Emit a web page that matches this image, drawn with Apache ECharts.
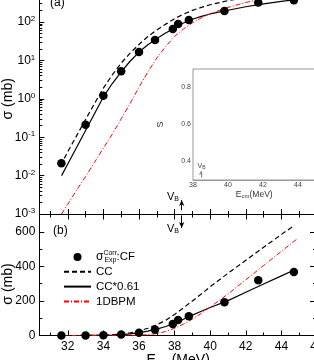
<!DOCTYPE html>
<html><head><meta charset="utf-8">
<script src="https://cdn.jsdelivr.net/npm/echarts@6/dist/echarts.min.js"></script>
<style>html,body{margin:0;padding:0;background:#fff}#c{width:314px;height:360px}</style>
</head><body><div id="c"></div>
<script>
// ---- data ----
const expE      = [31.64, 33.0, 34.0, 35.0, 36.0, 36.9, 37.9, 38.2, 38.8, 40.8, 42.7, 44.7];
const expSigma  = [0.021, 0.21, 1.2, 5.2, 16.5, 34, 66, 89, 112, 193, 320, 368];

const ccE     = [31.8, 32, 32.5, 33, 33.5, 34, 34.5, 35, 35.5, 36, 36.5, 37, 37.5, 38, 38.5, 39, 39.5, 40, 41, 42, 43, 44, 44.75];
const ccSigma = [0.028, 0.042, 0.11, 0.29, 0.75, 1.9, 4.2, 8.5, 15.5, 26, 42, 62, 88, 122, 160, 200, 240, 282, 360, 435, 510, 585, 638];

const cc61E     = [31.65, 32, 32.5, 33, 33.5, 34, 34.5, 35, 35.5, 36, 36.5, 37, 37.5, 38, 38.5, 39, 39.5, 40, 41, 42, 43, 44, 44.75];
const cc61Sigma = [0.010, 0.020, 0.055, 0.15, 0.41, 1.12, 2.5, 5.0, 9.5, 16.5, 25.5, 37, 52, 70, 94, 118, 140, 162, 202, 250, 298, 345, 380];

const bpmE     = [31.65, 32, 32.5, 33, 33.5, 34, 34.5, 35, 35.5, 36, 36.5, 37, 37.5, 38, 38.5, 39, 39.5, 40, 41, 42, 43, 44, 44.9];
const bpmSigma = [0.001, 0.0018, 0.0042, 0.0095, 0.022, 0.052, 0.12, 0.3, 0.75, 2.0, 5.0, 11.5, 23, 42, 66, 95, 128, 165, 240, 322, 405, 487, 560];

// inset: S factor
const sE   = [38.25, 38.8, 41.85, 42.65, 44.65];
const sVal = [0.63, 0.598, 0.567, 0.655, 0.573];
const sErr = [0.015, 0.006, 0.035, 0.006, 0.006];
const sFitE = [38.2, 45];
const sFitV = [0.61, 0.61];

const vbE = 38.4;          // barrier position
const vbInsetE = 38.45;

// tick values
const xMajor = [32, 34, 36, 38, 40, 42, 44, 46];
const xMinor = [31, 33, 35, 37, 39, 41, 43, 45];
const yLinMajor = [0, 200, 400, 600];
const yLinMinor = [100, 300, 500];
const logDecades = [-3, -2, -1, 0, 1, 2];
const logMult = [2, 3, 4, 5, 6, 7, 8, 9];
const insetXMajor = [38, 40, 42, 44];
const insetXMinor = [39, 41, 43, 45];
const insetYMajor = [0.4, 0.6, 0.8];

const logMinor = [];
logDecades.forEach(d => logMult.forEach(m => logMinor.push(d + Math.log10(m))));

const zip = (a, b) => a.map((v, i) => [v, b[i]]);
const F = 'Liberation Sans, Arial, sans-serif';

const chart = echarts.init(document.getElementById('c'), null, {renderer: 'canvas'});

const blackLine = {onZero: false, lineStyle: {color: '#000', width: 1}};
function tickAxis(base) {
  return Object.assign({
    splitLine: {show: false},
    axisLine: {show: false, onZero: false},
    axisLabel: {show: false}
  }, base);
}

const NAME_EXP = 'σExpCorr:CF';
const NAME_CC = 'CC';
const NAME_61 = 'CC*0.61';
const NAME_BPM = '1DBPM';

const lineDefs = [
  {name: NAME_CC, data: zip(ccE, ccSigma), style: {color: '#000', width: 1.2, type: [5, 3]}},
  {name: NAME_61, data: zip(cc61E, cc61Sigma), style: {color: '#000', width: 1.2, type: 'solid'}},
  {name: NAME_BPM, data: zip(bpmE, bpmSigma), style: {color: '#ff0000', width: 1, type: [5, 2, 1, 2]}}
];

const series = [];
[[0, 0], [2, 2]].forEach(([xi, yi]) => {
  lineDefs.forEach(d => {
    series.push({
      type: 'line', name: d.name, xAxisIndex: xi, yAxisIndex: yi,
      data: d.data, showSymbol: false, symbol: 'none',
      lineStyle: d.style, itemStyle: {color: d.style.color}, z: 3
    });
  });
  series.push({
    type: 'scatter', name: NAME_EXP, xAxisIndex: xi, yAxisIndex: yi,
    data: zip(expE, expSigma), symbol: 'circle', symbolSize: 8.5,
    itemStyle: {color: '#000', opacity: 1}, z: 4
  });
});

// V_B arrows (main panels)
series.push({
  type: 'line', xAxisIndex: 0, yAxisIndex: 0, data: [], silent: true,
  markLine: {silent: true, symbol: ['none', 'arrow'], symbolSize: [4, 6], label: {show: false},
    lineStyle: {color: '#000', width: 1, type: 'solid'},
    data: [[{coord: [vbE, 0.00126]}, {coord: [vbE, 0.0023]}]]}
});
series.push({
  type: 'line', xAxisIndex: 2, yAxisIndex: 2, data: [], silent: true,
  markLine: {silent: true, symbol: ['none', 'arrow'], symbolSize: [4, 6], label: {show: false},
    lineStyle: {color: '#000', width: 1, type: 'solid'},
    data: [[{coord: [vbE, 695]}, {coord: [vbE, 622]}]]}
});

// inset series
series.push({
  type: 'line', name: 'fit', xAxisIndex: 6, yAxisIndex: 6, data: zip(sFitE, sFitV),
  showSymbol: false, symbol: 'none', lineStyle: {color: '#f49a9a', width: 1}, z: 2,
  markLine: {silent: true, symbol: ['none', 'arrow'], symbolSize: [3, 4], label: {show: false},
    lineStyle: {color: '#888', width: 1, type: 'solid'},
    data: [[{coord: [vbInsetE, 0.312]}, {coord: [vbInsetE, 0.348]}]]}
});
series.push({
  type: 'custom', name: 'err', xAxisIndex: 6, yAxisIndex: 6,
  data: sE.map((e, i) => [e, sVal[i] - sErr[i], sVal[i] + sErr[i]]),
  renderItem: (params, api) => {
    const a = api.coord([api.value(0), api.value(1)]);
    const b = api.coord([api.value(0), api.value(2)]);
    return {type: 'line', shape: {x1: a[0], y1: a[1], x2: b[0], y2: b[1]}, style: {stroke: '#aaa', lineWidth: 1}};
  }, z: 3
});
series.push({
  type: 'scatter', name: 'S', xAxisIndex: 6, yAxisIndex: 6, data: zip(sE, sVal),
  symbol: 'rect', symbolSize: 4, itemStyle: {color: '#000', opacity: 1}, z: 4
});

const supRich = {
  b: {fontFamily: F, fontSize: 12, color: '#000', lineHeight: 14},
  p: {fontFamily: F, fontSize: 8, color: '#000', lineHeight: 8, verticalAlign: 'top'}
};

const option = {
  animation: false,
  backgroundColor: '#fff',
  textStyle: {fontFamily: F},
  grid: [
    {left: 39.3, top: -16.4, width: 277.7, height: 230.4, outerBoundsMode: 'none', containLabel: false},
    {left: 39.3, top: 214.5, width: 277.7, height: 121, outerBoundsMode: 'none', containLabel: false},
    {left: 193, top: 69, width: 122.5, height: 111, outerBoundsMode: 'none', containLabel: false,
      show: true, backgroundColor: '#fff', borderColor: '#999', borderWidth: 1, z: 5}
  ],
  xAxis: [
    // 0 top panel bottom axis
    {type: 'value', gridIndex: 0, position: 'bottom', min: 30.4, max: 46, splitLine: {show: false},
      axisLine: blackLine, axisTick: {inside: true, length: 5, customValues: xMajor, lineStyle: {color: '#000'}},
      axisLabel: {show: false}},
    // 1 minor
    tickAxis({type: 'value', gridIndex: 0, position: 'bottom', min: 30.4, max: 46,
      axisTick: {inside: true, length: 3, customValues: xMinor, lineStyle: {color: '#000'}}}),
    // 2 bottom panel bottom axis
    {type: 'value', gridIndex: 1, position: 'bottom', min: 30.4, max: 46, splitLine: {show: false},
      axisLine: blackLine, axisTick: {inside: true, length: 5, customValues: xMajor, lineStyle: {color: '#000'}},
      axisLabel: {customValues: xMajor, fontSize: 12, color: '#000', margin: 5, fontFamily: F},
      name: '{e|E}{s|cm}{e| (MeV)}', nameLocation: 'middle', nameGap: 18, nameMoveOverlap: false,
      nameTextStyle: {rich: {e: {fontFamily: F, fontSize: 14, color: '#000'}, s: {fontFamily: F, fontSize: 9, color: '#000', verticalAlign: 'bottom', lineHeight: 10}}}},
    // 3 minor
    tickAxis({type: 'value', gridIndex: 1, position: 'bottom', min: 30.4, max: 46,
      axisTick: {inside: true, length: 3, customValues: xMinor, lineStyle: {color: '#000'}}}),
    // 4 bottom panel top axis
    {type: 'value', gridIndex: 1, position: 'top', min: 30.4, max: 46, splitLine: {show: false},
      axisLine: blackLine, axisTick: {inside: true, length: 5, customValues: xMajor, lineStyle: {color: '#000'}},
      axisLabel: {show: false}},
    // 5 minor
    tickAxis({type: 'value', gridIndex: 1, position: 'top', min: 30.4, max: 46,
      axisTick: {inside: true, length: 3, customValues: xMinor, lineStyle: {color: '#000'}}}),
    // 6 inset bottom
    {type: 'value', gridIndex: 2, position: 'bottom', min: 38, max: 45, splitLine: {show: false},
      axisLine: {onZero: false, lineStyle: {color: '#999', width: 1}},
      axisTick: {inside: true, length: 3, customValues: insetXMajor, lineStyle: {color: '#999'}},
      axisLabel: {customValues: insetXMajor, fontSize: 7, color: '#444', margin: 2, fontFamily: F},
      name: '{e|E}{s|cm}{e|(MeV)}', nameLocation: 'middle', nameGap: 9,
      nameTextStyle: {rich: {e: {fontFamily: F, fontSize: 8.5, color: '#333'}, s: {fontFamily: F, fontSize: 6, color: '#333', verticalAlign: 'bottom', lineHeight: 7}}}},
    // 7 inset top ticks
    tickAxis({type: 'value', gridIndex: 2, position: 'top', min: 38, max: 45,
      axisTick: {inside: true, length: 3, customValues: insetXMajor.concat(insetXMinor), lineStyle: {color: '#999'}}})
  ],
  yAxis: [
    // 0 top panel log axis
    {type: 'log', logBase: 10, gridIndex: 0, position: 'left', min: 0.001, max: 1000, splitLine: {show: false},
      axisLine: blackLine, axisTick: {inside: true, length: 5, lineStyle: {color: '#000'}},
      axisLabel: {margin: 4, formatter: v => '{b|10}{p|' + Math.round(Math.log10(v)) + '}', rich: supRich},
      name: 'σ (mb)', nameLocation: 'middle', nameGap: 24.5, nameMoveOverlap: false,
      nameTextStyle: {fontFamily: F, fontSize: 14, color: '#000'}},
    // 1 log minor ticks
    tickAxis({type: 'value', gridIndex: 0, position: 'left', min: -3, max: 3,
      axisTick: {inside: true, length: 3, customValues: logMinor, lineStyle: {color: '#000'}}}),
    // 2 bottom panel linear
    {type: 'value', gridIndex: 1, position: 'left', min: 0, max: 700, splitLine: {show: false},
      axisLine: blackLine, axisTick: {inside: true, length: 5, customValues: yLinMajor, lineStyle: {color: '#000'}},
      axisLabel: {customValues: yLinMajor, margin: 4, fontSize: 12, color: '#000', fontFamily: F},
      name: 'σ (mb)', nameLocation: 'middle', nameGap: 24.5, nameMoveOverlap: false,
      nameTextStyle: {fontFamily: F, fontSize: 14, color: '#000', padding: [0, 18, 0, 0]}},
    // 3 minor
    tickAxis({type: 'value', gridIndex: 1, position: 'left', min: 0, max: 700,
      axisTick: {inside: true, length: 3, customValues: yLinMinor, lineStyle: {color: '#000'}}}),
    // 4 right major
    {type: 'value', gridIndex: 1, position: 'right', min: 0, max: 700, splitLine: {show: false},
      axisLine: blackLine, axisTick: {inside: true, length: 7, customValues: yLinMajor, lineStyle: {color: '#000'}},
      axisLabel: {show: false}},
    // 5 right minor
    tickAxis({type: 'value', gridIndex: 1, position: 'right', min: 0, max: 700,
      axisTick: {inside: true, length: 4, customValues: yLinMinor, lineStyle: {color: '#000'}}}),
    // 6 inset y
    {type: 'value', gridIndex: 2, position: 'left', min: 0.3, max: 0.9, splitLine: {show: false},
      axisLine: {onZero: false, lineStyle: {color: '#999', width: 1}},
      axisTick: {inside: true, length: 3, customValues: insetYMajor, lineStyle: {color: '#999'}},
      axisLabel: {customValues: insetYMajor, fontSize: 7, color: '#444', margin: 2, fontFamily: F},
      name: 'S', nameLocation: 'middle', nameGap: 28,
      nameTextStyle: {fontFamily: F, fontSize: 9, color: '#333'}}
  ],
  legend: {
    orient: 'vertical', left: 63, top: 250, padding: 0,
    itemWidth: 27, itemHeight: 8, itemGap: 0.8,
    data: [
      {name: NAME_EXP, itemStyle: {opacity: 1}},
      {name: NAME_CC, itemStyle: {opacity: 0}},
      {name: NAME_61, itemStyle: {opacity: 0}},
      {name: NAME_BPM, itemStyle: {opacity: 0}}
    ],
    textStyle: {fontFamily: F, fontSize: 11.5, color: '#000', lineHeight: 14,
      rich: {
        s: {fontFamily: F, fontSize: 12, color: '#000', lineHeight: 14},
        up: {fontFamily: F, fontSize: 7, color: '#000', lineHeight: 8, verticalAlign: 'top', width: 1},
        dn: {fontFamily: F, fontSize: 7, color: '#000', lineHeight: 8, verticalAlign: 'bottom'},
        c: {fontFamily: F, fontSize: 11.5, color: '#000', lineHeight: 14}
      }},
    formatter: n => n === NAME_EXP ? '{s|σ}{up|Corr}{dn|Exp}{c|:CF}' : n
  },
  graphic: [
    {type: 'text', left: 50, top: -3, z: 10, style: {text: '(a)', font: '12px ' + F, fill: '#000'}},
    {type: 'text', left: 53, top: 225, z: 10, style: {text: '(b)', font: '12px ' + F, fill: '#000'}},
    {type: 'text', x: 179, y: 197, z: 10, style: {text: '{v|V}{b|B}', align: 'right', verticalAlign: 'middle',
      rich: {v: {fontFamily: F, fontSize: 11, fill: '#000', lineHeight: 12}, b: {fontFamily: F, fontSize: 7, fill: '#000', verticalAlign: 'bottom', lineHeight: 7}}}},
    {type: 'text', x: 179, y: 229, z: 10, style: {text: '{v|V}{b|B}', align: 'right', verticalAlign: 'middle',
      rich: {v: {fontFamily: F, fontSize: 11, fill: '#000', lineHeight: 12}, b: {fontFamily: F, fontSize: 7, fill: '#000', verticalAlign: 'bottom', lineHeight: 7}}}},
    {type: 'text', x: 197.5, y: 166, z: 10, style: {text: '{v|V}{b|B}', verticalAlign: 'middle',
      rich: {v: {fontFamily: F, fontSize: 7, fill: '#444', lineHeight: 8}, b: {fontFamily: F, fontSize: 5, fill: '#444', verticalAlign: 'bottom', lineHeight: 5}}}}
  ],
  series: series
};
chart.setOption(option);
</script>
</body></html>
